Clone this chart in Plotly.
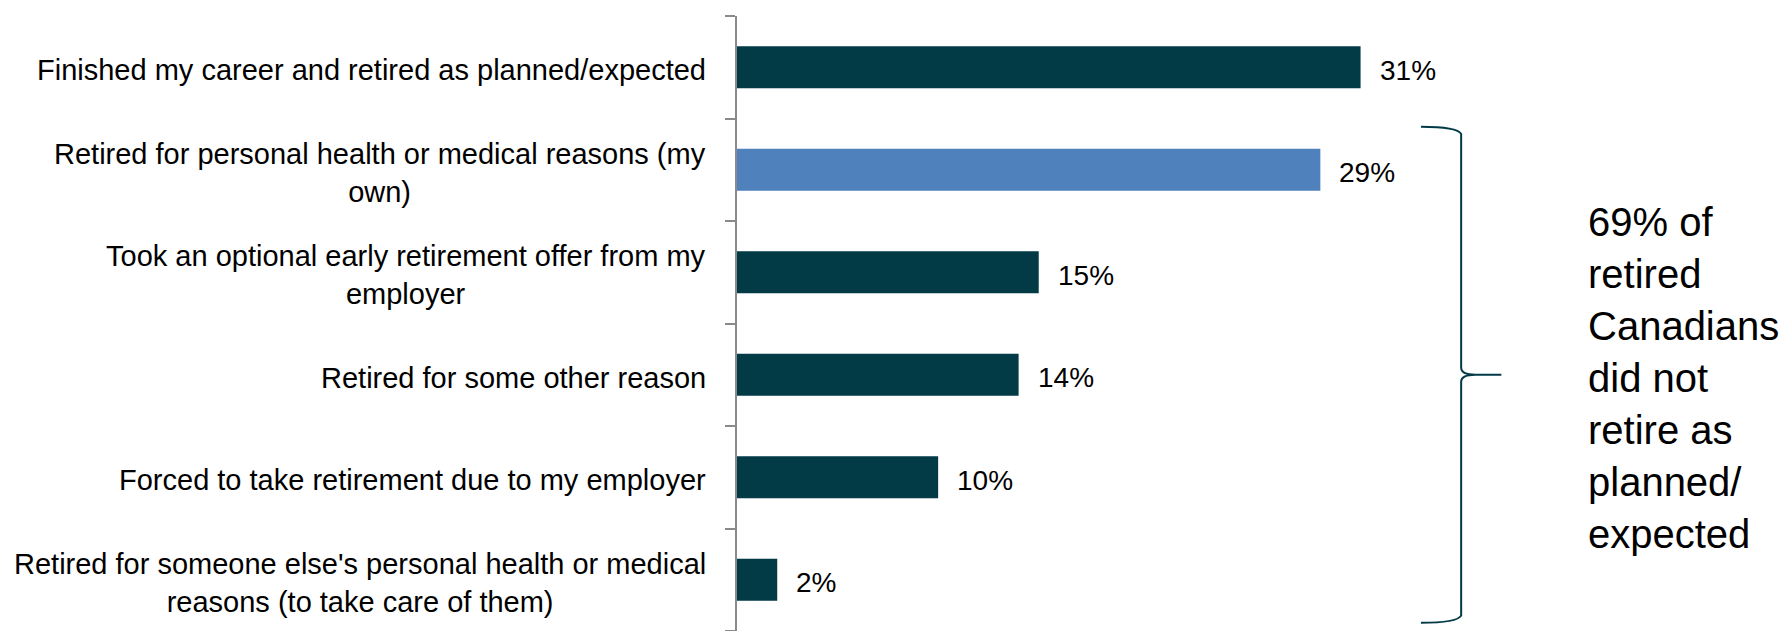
import plotly.graph_objects as go

# Reasons for retirement (share of retired Canadians)
categories = [
    "Finished my career and retired as planned/expected",
    "Retired for personal health or medical reasons (my<br>own)",
    "Took an optional early retirement offer from my<br>employer",
    "Retired for some other reason",
    "Forced to take retirement due to my employer",
    "Retired for someone else's personal health or medical<br>reasons (to take care of them)",
]
values = [31, 29, 15, 14, 10, 2]
highlight = [False, True, False, False, False, False]

callout_text = "69% of<br>retired<br>Canadians<br>did not<br>retire as<br>planned/<br>expected"

DARK = "#023A46"
BLUE = "#4F81BD"
AXIS_GREY = "#8A8A8A"
FONT = "Liberation Sans, Arial, sans-serif"

n = len(categories)
idx = list(range(n))
colors = [BLUE if h else DARK for h in highlight]

fig = go.Figure()
fig.add_trace(go.Bar(
    x=values,
    y=idx,
    orientation="h",
    marker=dict(color=colors, line=dict(width=0)),
    width=0.41,
    hoverinfo="skip",
    showlegend=False,
))

annotations = []
# category labels, right-aligned block with centred lines
for i, lab in enumerate(categories):
    annotations.append(dict(
        x=0, y=i, xref="x", yref="y",
        text=lab, showarrow=False,
        xanchor="right", yanchor="middle", align="center",
        xshift=-29, yshift=-3,
        font=dict(family=FONT, size=29, color="#000000"),
    ))
# value labels next to each bar
for i, v in enumerate(values):
    annotations.append(dict(
        x=v, y=i, xref="x", yref="y",
        text=f"{v}%", showarrow=False,
        xanchor="left", yanchor="middle",
        xshift=17, yshift=-3,
        font=dict(family=FONT, size=28, color="#000000"),
    ))

# brace grouping every reason other than the first
first, last = 1, n - 1
pad = 0.42
top, bot = first - pad, last + pad
mid = (first + last) / 2
xh, xv, xt = 34, 36, 38  # hook end, spine, tip (in % units)
brace_path = (
    f"M {xh},{top} Q {xv - 0.2},{top} {xv},{top + 0.07} "
    f"L {xv},{mid - 0.07} Q {xv},{mid} {xv + 0.7},{mid} L {xt},{mid} "
    f"M {xv + 0.7},{mid} Q {xv},{mid} {xv},{mid + 0.07} "
    f"L {xv},{bot - 0.07} Q {xv - 0.2},{bot} {xh},{bot}"
)
shapes = [dict(
    type="path", xref="x", yref="y", path=brace_path,
    line=dict(color=DARK, width=2), fillcolor="rgba(0,0,0,0)",
)]

annotations.append(dict(
    x=42.2, y=mid, xref="x", yref="y",
    text=callout_text, showarrow=False,
    xanchor="left", yanchor="middle", align="left",
    yshift=-3,
    font=dict(family=FONT, size=40, color="#000000"),
))

fig.update_layout(
    width=1783, height=631,
    margin=dict(l=737, r=0, t=16, b=0),
    paper_bgcolor="white", plot_bgcolor="white",
    annotations=annotations,
    shapes=shapes,
    xaxis=dict(range=[0, 52], visible=False, fixedrange=True),
    yaxis=dict(
        range=[n - 0.5, -0.5],
        tickmode="array",
        tickvals=[i - 0.5 for i in range(n + 1)],
        showticklabels=False,
        ticks="outside", ticklen=10, tickwidth=2, tickcolor=AXIS_GREY,
        showline=True, linecolor=AXIS_GREY, linewidth=2,
        showgrid=False, zeroline=False, fixedrange=True,
    ),
)

fig.write_html("out.html")
